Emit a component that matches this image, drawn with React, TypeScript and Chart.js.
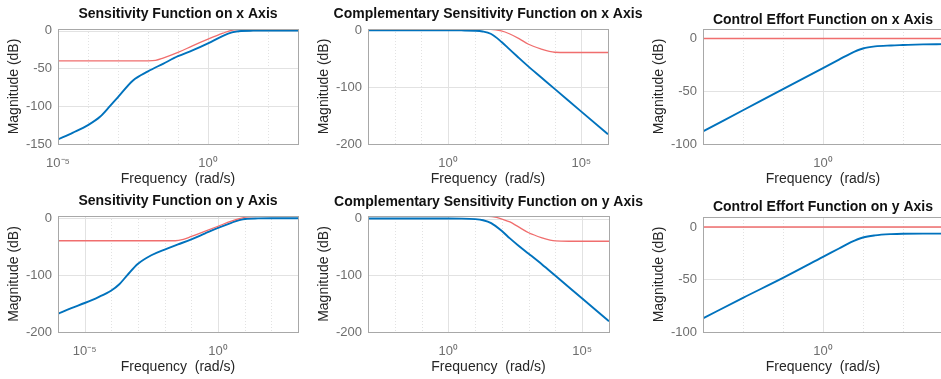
import React, { useEffect, useRef } from 'react';
import { Chart, registerables } from 'chart.js';

Chart.register(...registerables);

// ---------- data (frequency as log10 exponent, magnitude in dB) ----------
// Sensitivity on x axis
const sxFreqExp = [-5, -4.5, -4, -3.6, -3.27, -3, -2.5, -2, -1.5, -1, -0.5, 0, 0.5, 0.8, 1.1, 1.5, 2, 3];
const sxMagDb = [-144, -135, -125, -114, -100, -88, -66, -54, -44, -34, -26, -17, -7, -2.5, -0.6, -0.2, -0.1, -0.1];
const sxBoundExp = [-5, -2, -1.75, -1.5, -1, -0.5, 0, 0.5, 0.75, 1, 1.5, 3];
const sxBoundDb = [-40, -40, -39.5, -36.5, -29, -20, -11.5, -3.5, 0, 1.4, 1.8, 1.8];

// Complementary sensitivity on x axis
const txFreqExp = [-3, -1, 0, 0.5, 1, 1.3, 1.6, 2, 2.3, 2.6, 3, 3.5, 4, 5, 6];
const txMagDb = [0, 0, 0, -0.1, -0.6, -2, -6, -20, -33, -46, -63, -83, -103, -143, -183];
const txBoundExp = [-3, 1, 1.6, 2, 2.3, 2.68, 3, 3.5, 3.8, 4, 4.5, 6];
const txBoundDb = [2.2, 2.2, 1.8, -1, -6, -15, -24, -33, -37, -38.5, -39, -39];

// Control effort on x axis
const uxFreqExp = [-3, -2, -1, 0, 0.4, 0.7, 1, 1.3, 1.7, 2, 2.5, 3];
const uxMagDb = [-88, -68, -48, -28, -20, -14, -9.5, -7.5, -6.6, -6.2, -5.6, -5.3];
const uxBoundExp = [-3, 3];
const uxBoundDb = [0, 0];

// Sensitivity on y axis
const syFreqExp = [-6, -5.5, -5, -4.5, -4, -3.7, -3.4, -3, -2.5, -2, -1.5, -1, -0.5, 0, 0.5, 0.8, 1.1, 1.5, 2, 3];
const syMagDb = [-168, -158, -149, -139, -127, -116, -100, -80, -65, -55, -46, -37, -27, -17, -8, -3, -0.8, -0.2, 0, 0];
const syBoundExp = [-6, -1.6, -1.3, -1, -0.5, 0, 0.5, 0.8, 1.1, 1.5, 2, 3];
const syBoundDb = [-39.5, -39.5, -37, -32, -23, -14, -5, -0.5, 2.5, 3.4, 3.5, 3.5];

// Complementary sensitivity on y axis
const tyFreqExp = [-3, 0, 0.5, 1, 1.3, 1.6, 2, 2.3, 2.6, 3, 3.5, 4, 5, 6];
const tyMagDb = [0, 0, -0.1, -1, -3, -8, -22, -35, -47, -62, -81, -101, -141, -181];
const tyBoundExp = [-3, 1.5, 1.8, 2, 2.3, 2.56, 3, 3.5, 3.8, 4, 4.5, 6];
const tyBoundDb = [4, 4, 2, -1, -6, -13, -25, -34, -38, -39.5, -40, -40];

// Control effort on y axis
const uyFreqExp = [-3, -2, -1, 0, 0.4, 0.7, 1, 1.3, 1.7, 2, 2.5, 3];
const uyMagDb = [-87, -67.5, -48.5, -28.5, -20.5, -14.5, -10, -8, -6.8, -6.4, -6.3, -6.3];
const uyBoundExp = [-3, 3];
const uyBoundDb = [0, 0];

// ---------- ticks ----------
const sxXTickExps = [-5, -4, -3, -2, -1, 0, 1, 2, 3];
const sxXLabelExps = [-5, 0];
const syXTickExps = [-6, -5, -4, -3, -2, -1, 0, 1, 2, 3];
const syXLabelExps = [-5, 0];
const tXTickExps = [-3, -2, -1, 0, 1, 2, 3, 4, 5, 6];
const tXLabelExps = [0, 5];
const uXTickExps = [-3, -2, -1, 0, 1, 2, 3];
const uXLabelExps = [0];

const sxYTicks = [-150, -100, -50, 0];
const syYTicks = [-200, -100, 0];
const tYTicks = [-200, -100, 0];
const uYTicks = [-100, -50, 0];

const titles = [
  'Sensitivity Function on x Axis',
  'Complementary Sensitivity Function on x Axis',
  'Control Effort Function on x Axis',
  'Sensitivity Function on y Axis',
  'Complementary Sensitivity Function on y Axis',
  'Control Effort Function on y Axis',
];

// ---------- layout / style ----------
const FONT = "'Liberation Sans', Arial, Helvetica, sans-serif";
const BLUE = 'rgb(0,114,189)';
const RED = 'rgb(240,110,110)';
const TICK_COLOR = '#6e6e6e';
const LABEL_COLOR = '#262626';
const TITLE_COLOR = '#111111';
const GRID_COLOR = '#e2e2e2';
const BOX_COLOR = '#a8a8a8';
const LM = 58;
const RM = 60;
const BM = 46;
const TITLE_SIZE = 14;

type Spec = {
  title: string;
  canvasTop: number;
  plotLeft: number;
  plotTop: number;
  plotRight: number;
  plotBottom: number;
  titleY: number;
  xMinExp: number;
  xMaxExp: number;
  xTickExps: number[];
  xLabelExps: number[];
  yMin: number;
  yMax: number;
  yTicks: number[];
  blueExp: number[];
  blueDb: number[];
  redExp: number[];
  redDb: number[];
};

const specs: Spec[] = [
  { title: titles[0], canvasTop: 0, plotLeft: 58, plotTop: 29, plotRight: 298, plotBottom: 144, titleY: 14,
    xMinExp: -5, xMaxExp: 3, xTickExps: sxXTickExps, xLabelExps: sxXLabelExps, yMin: -150, yMax: 2, yTicks: sxYTicks,
    blueExp: sxFreqExp, blueDb: sxMagDb, redExp: sxBoundExp, redDb: sxBoundDb },
  { title: titles[1], canvasTop: 0, plotLeft: 368, plotTop: 29, plotRight: 608, plotBottom: 144, titleY: 14,
    xMinExp: -3, xMaxExp: 6, xTickExps: tXTickExps, xLabelExps: tXLabelExps, yMin: -200, yMax: 2.4, yTicks: tYTicks,
    blueExp: txFreqExp, blueDb: txMagDb, redExp: txBoundExp, redDb: txBoundDb },
  { title: titles[2], canvasTop: 0, plotLeft: 703, plotTop: 29, plotRight: 943, plotBottom: 144, titleY: 20,
    xMinExp: -3, xMaxExp: 3, xTickExps: uXTickExps, xLabelExps: uXLabelExps, yMin: -100, yMax: 9, yTicks: uYTicks,
    blueExp: uxFreqExp, blueDb: uxMagDb, redExp: uxBoundExp, redDb: uxBoundDb },
  { title: titles[3], canvasTop: 188, plotLeft: 58, plotTop: 216, plotRight: 298, plotBottom: 332, titleY: 200.7,
    xMinExp: -6, xMaxExp: 3, xTickExps: syXTickExps, xLabelExps: syXLabelExps, yMin: -200, yMax: 4, yTicks: syYTicks,
    blueExp: syFreqExp, blueDb: syMagDb, redExp: syBoundExp, redDb: syBoundDb },
  { title: titles[4], canvasTop: 188, plotLeft: 368, plotTop: 216, plotRight: 609, plotBottom: 332, titleY: 201.7,
    xMinExp: -3, xMaxExp: 6, xTickExps: tXTickExps, xLabelExps: tXLabelExps, yMin: -200, yMax: 4.5, yTicks: tYTicks,
    blueExp: tyFreqExp, blueDb: tyMagDb, redExp: tyBoundExp, redDb: tyBoundDb },
  { title: titles[5], canvasTop: 188, plotLeft: 703, plotTop: 217, plotRight: 943, plotBottom: 332, titleY: 206.7,
    xMinExp: -3, xMaxExp: 3, xTickExps: uXTickExps, xLabelExps: uXLabelExps, yMin: -100, yMax: 9.5, yTicks: uYTicks,
    blueExp: uyFreqExp, blueDb: uyMagDb, redExp: uyBoundExp, redDb: uyBoundDb },
];

const SUP: Record<string, string> = {
  '0': '\u2070', '1': '\u00B9', '2': '\u00B2', '3': '\u00B3', '4': '\u2074',
  '5': '\u2075', '6': '\u2076', '7': '\u2077', '8': '\u2078', '9': '\u2079', '-': '\u207B',
};
const sup = (n: number) => String(n).split('').map((c) => SUP[c] || c).join('');

const gridBoxPlugin = {
  id: 'gridBox',
  beforeDatasetsDraw(chart: any) {
    const { ctx, chartArea: a, scales } = chart;
    const xs = scales.x;
    const ys = scales.y;
    ctx.save();
    ctx.lineWidth = 1;
    ctx.strokeStyle = GRID_COLOR;
    xs.ticks.forEach((t: any) => {
      const px = Math.round(xs.getPixelForValue(t.value)) + 0.5;
      if (px <= a.left + 1.5 || px >= a.right - 1.5) return;
      ctx.setLineDash(t.label ? [] : [1, 2]);
      ctx.beginPath();
      ctx.moveTo(px, a.top);
      ctx.lineTo(px, a.bottom);
      ctx.stroke();
    });
    ctx.setLineDash([]);
    ys.ticks.forEach((t: any) => {
      const py = Math.round(ys.getPixelForValue(t.value)) + 0.5;
      if (py <= a.top + 1.5 || py >= a.bottom - 1.5) return;
      ctx.beginPath();
      ctx.moveTo(a.left, py);
      ctx.lineTo(a.right, py);
      ctx.stroke();
    });
    ctx.restore();
  },
  afterDatasetsDraw(chart: any) {
    const { ctx, chartArea: a } = chart;
    ctx.save();
    ctx.lineWidth = 1;
    ctx.strokeStyle = BOX_COLOR;
    ctx.strokeRect(Math.round(a.left) + 0.5, Math.round(a.top) + 0.5,
      Math.round(a.right) - Math.round(a.left), Math.round(a.bottom) - Math.round(a.top));
    ctx.restore();
  },
  afterDraw(chart: any, _args: any, opts: any) {
    if (!opts || !opts.text) return;
    const { ctx, chartArea: a } = chart;
    ctx.save();
    ctx.font = `bold ${TITLE_SIZE}px ${FONT}`;
    ctx.fillStyle = TITLE_COLOR;
    ctx.textAlign = 'center';
    ctx.textBaseline = 'middle';
    ctx.fillText(opts.text, (a.left + a.right) / 2, opts.y);
    ctx.restore();
  },
};

function Panel({ spec }: { spec: Spec }) {
  const ref = useRef<HTMLCanvasElement>(null);
  const width = spec.plotRight - spec.plotLeft + LM + RM;
  const height = spec.plotBottom + BM - spec.canvasTop;
  const left = spec.plotLeft - LM;

  useEffect(() => {
    if (!ref.current) return;
    const chart = new Chart(ref.current, {
      type: 'line',
      data: {
        datasets: [
          {
            data: spec.redExp.map((e, i) => ({ x: Math.pow(10, e), y: spec.redDb[i] })),
            borderColor: RED, borderWidth: 1.3, pointRadius: 0, fill: false,
            cubicInterpolationMode: 'monotone',
          },
          {
            data: spec.blueExp.map((e, i) => ({ x: Math.pow(10, e), y: spec.blueDb[i] })),
            borderColor: BLUE, borderWidth: 1.9, pointRadius: 0, fill: false,
            cubicInterpolationMode: 'monotone',
          },
        ],
      },
      options: {
        responsive: false,
        maintainAspectRatio: false,
        animation: false,
        devicePixelRatio: 1,
        events: [],
        layout: { padding: { left: 0, right: RM, top: spec.plotTop - spec.canvasTop, bottom: 0 } },
        plugins: {
          legend: { display: false },
          tooltip: { enabled: false },
          title: { display: false },
          gridBox: { text: spec.title, y: spec.titleY - spec.canvasTop },
        },
        scales: {
          x: {
            type: 'logarithmic',
            bounds: 'data',
            min: Math.pow(10, spec.xMinExp),
            max: Math.pow(10, spec.xMaxExp),
            grid: { display: false, drawTicks: false },
            border: { display: false },
            afterBuildTicks: (s: any) => {
              s.ticks = spec.xTickExps.map((e) => ({ value: Math.pow(10, e) }));
            },
            afterFit: (s: any) => { s.height = BM; },
            ticks: {
              autoSkip: false, maxRotation: 0, minRotation: 0, padding: 12,
              color: TICK_COLOR, font: { family: FONT, size: 13 },
              callback: (v: any) => {
                const e = Math.round(Math.log10(Number(v)));
                return spec.xLabelExps.includes(e) ? '10' + sup(e) : '';
              },
            },
            title: {
              display: true, text: 'Frequency  (rad/s)', color: LABEL_COLOR,
              font: { family: FONT, size: 14 }, padding: { top: 0, bottom: 2.6 },
            },
          },
          y: {
            type: 'linear',
            bounds: 'data',
            min: spec.yMin,
            max: spec.yMax,
            grid: { display: false, drawTicks: false },
            border: { display: false },
            afterBuildTicks: (s: any) => {
              s.ticks = spec.yTicks.map((v) => ({ value: v }));
            },
            afterFit: (s: any) => { s.width = LM; },
            ticks: {
              padding: 6, color: TICK_COLOR, font: { family: FONT, size: 13 },
              callback: (v: any) => String(v),
            },
            title: {
              display: true, text: 'Magnitude (dB)', color: LABEL_COLOR,
              font: { family: FONT, size: 14 }, padding: { top: 5.9, bottom: 0 },
            },
          },
        },
      } as any,
      plugins: [gridBoxPlugin],
    });
    return () => chart.destroy();
  }, [spec]);

  return (
    <canvas
      ref={ref}
      width={width}
      height={height}
      style={{ position: 'absolute', left, top: spec.canvasTop, width, height, display: 'block' }}
    />
  );
}

export default function App() {
  return (
    <div style={{ position: 'fixed', left: 0, top: 0, width: 941, height: 379, overflow: 'hidden', background: '#ffffff' }}>
      {specs.map((s, i) => (
        <Panel key={i} spec={s} />
      ))}
    </div>
  );
}
